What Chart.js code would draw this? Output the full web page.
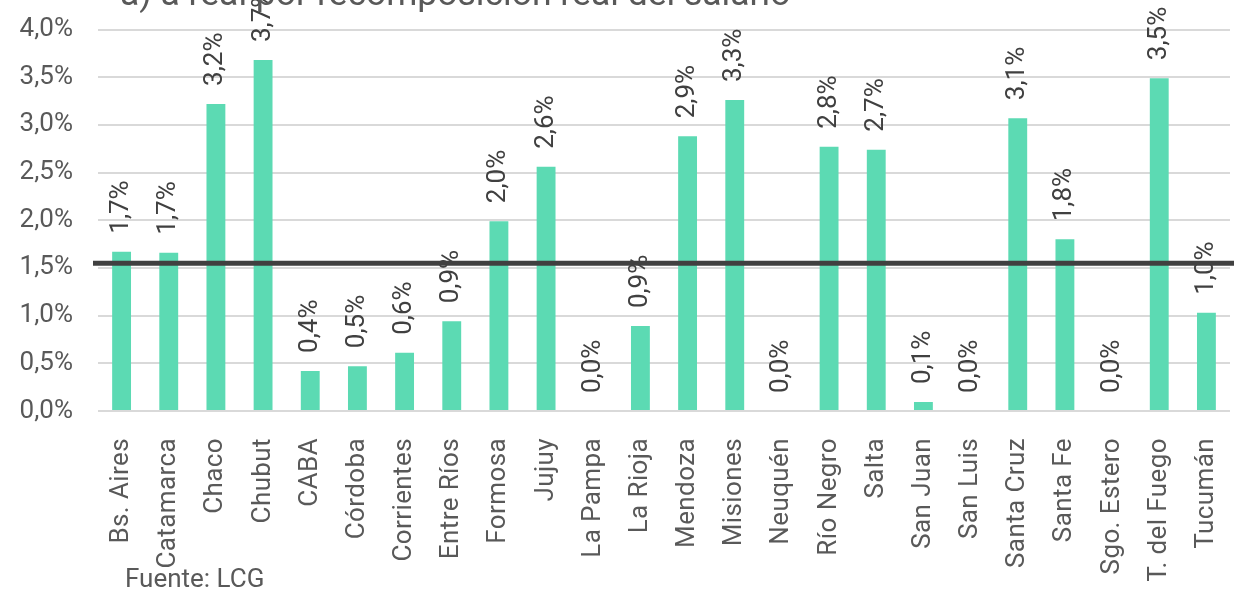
<!DOCTYPE html>
<html>
<head>
<meta charset="utf-8">
<script src="https://cdn.jsdelivr.net/npm/chart.js@4/dist/chart.umd.min.js"></script>
<style>
  html, body { margin: 0; padding: 0; background: #fff; }
  #wrap { width: 1234px; height: 590px; position: relative; }
</style>
</head>
<body>
<div id="wrap"><canvas id="chart"></canvas></div>
<script>
// Datos
const provincias = ['Bs. Aires', 'Catamarca', 'Chaco', 'Chubut', 'CABA', 'Córdoba', 'Corrientes',
    'Entre Ríos', 'Formosa', 'Jujuy', 'La Pampa', 'La Rioja', 'Mendoza', 'Misiones', 'Neuquén',
    'Río Negro', 'Salta', 'San Juan', 'San Luis', 'Santa Cruz', 'Santa Fe', 'Sgo. Estero',
    'T. del Fuego', 'Tucumán'];
const variacion = [1.67, 1.66, 3.22, 3.68, 0.42, 0.47, 0.61, 0.94, 1.99, 2.56, 0, 0.89, 2.88, 3.26,
    0, 2.77, 2.74, 0.094, 0, 3.07, 1.80, 0, 3.49, 1.03];
const promedio = 1.55;
const yTicks = [0, 0.5, 1, 1.5, 2, 2.5, 3, 3.5, 4];
const titulo = 'a) a real por recomposición real del salario';
const fuente = 'Fuente: LCG';

const FONT = 'Roboto, "Noto Sans", sans-serif';
const fmt = v => v.toFixed(1).replace('.', ',') + '%';

// Plugin: etiquetas, eje x rotado, linea promedio, titulo y fuente
const extras = {
    id: 'extras',
    afterDatasetsDraw(chart) {
        const ctx = chart.ctx;
        const x = chart.scales.x;
        const y = chart.scales.y;
        const bars = chart.getDatasetMeta(0).data;

        ctx.save();
        // etiquetas de datos
        ctx.fillStyle = '#404040';
        ctx.font = '26px ' + FONT;
        ctx.textAlign = 'left';
        ctx.textBaseline = 'middle';
        bars.forEach((b, i) => {
            ctx.save();
            ctx.translate(b.x, y.getPixelForValue(variacion[i]) - 18);
            ctx.rotate(-Math.PI / 2);
            ctx.fillText(fmt(variacion[i]), 0, 0);
            ctx.restore();
        });

        // etiquetas del eje x
        ctx.fillStyle = '#595959';
        ctx.letterSpacing = '0.4px';
        ctx.textAlign = 'right';
        provincias.forEach((p, i) => {
            ctx.save();
            ctx.translate(x.getPixelForValue(i), 438);
            ctx.rotate(-Math.PI / 2);
            ctx.fillText(p, 0, 0);
            ctx.restore();
        });
        ctx.letterSpacing = '0px';

        // linea promedio
        const yp = y.getPixelForValue(promedio);
        ctx.strokeStyle = '#404040';
        ctx.lineWidth = 5;
        ctx.beginPath();
        ctx.moveTo(chart.chartArea.left - 5, yp);
        ctx.lineTo(chart.width, yp);
        ctx.stroke();

        // titulo y fuente
        ctx.fillStyle = '#595959';
        ctx.textAlign = 'left';
        ctx.textBaseline = 'alphabetic';
        ctx.font = '35.5px ' + FONT;
        ctx.fillText(titulo, 120, 5);
        ctx.font = '26px ' + FONT;
        ctx.fillText(fuente, 125, 587);
        ctx.restore();
    }
};

new Chart(document.getElementById('chart'), {
    type: 'bar',
    data: {
        labels: provincias,
        datasets: [{
            data: variacion,
            backgroundColor: '#5cdab3',
            barPercentage: 0.4,
            categoryPercentage: 1.0
        }]
    },
    options: {
        responsive: true,
        maintainAspectRatio: false,
        animation: false,
        layout: { padding: { top: 29.5, right: 4, bottom: 179, left: 0 } },
        plugins: {
            legend: { display: false },
            tooltip: { enabled: false }
        },
        scales: {
            x: {
                display: false
            },
            y: {
                min: 0,
                max: 4,
                afterFit(scale) {
                    scale.width = 98;
                    scale.paddingTop = 0;
                    scale.paddingBottom = 0;
                },
                afterBuildTicks(scale) { scale.ticks = yTicks.map(v => ({ value: v })); },
                border: { display: false },
                grid: { color: '#d9d9d9', lineWidth: 2, drawTicks: false },
                ticks: {
                    padding: 25,
                    color: '#595959',
                    font: { family: FONT, size: 26 },
                    callback: v => fmt(v)
                }
            }
        }
    },
    plugins: [extras]
});
</script>
</body>
</html>
